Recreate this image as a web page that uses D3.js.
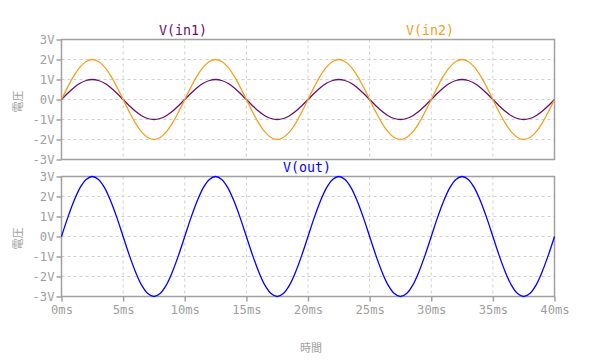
<!DOCTYPE html>
<html><head><meta charset="utf-8">
<script src="https://cdn.jsdelivr.net/npm/d3@7"></script>
<style>body{margin:0;background:#fff}svg{display:block}</style>
</head><body>
<svg id="c" width="600" height="361"></svg>
<script>
// time in ms, 0.5ms steps
const timeMs = [0,0.5,1,1.5,2,2.5,3,3.5,4,4.5,5,5.5,6,6.5,7,7.5,8,8.5,9,9.5,10,10.5,11,11.5,12,12.5,13,13.5,14,14.5,15,15.5,16,16.5,17,17.5,18,18.5,19,19.5,20,20.5,21,21.5,22,22.5,23,23.5,24,24.5,25,25.5,26,26.5,27,27.5,28,28.5,29,29.5,30,30.5,31,31.5,32,32.5,33,33.5,34,34.5,35,35.5,36,36.5,37,37.5,38,38.5,39,39.5,40];
const vIn1 = [0,0.31,0.59,0.81,0.95,1,0.95,0.81,0.59,0.31,0,-0.31,-0.59,-0.81,-0.95,-1,-0.95,-0.81,-0.59,-0.31,
  0,0.31,0.59,0.81,0.95,1,0.95,0.81,0.59,0.31,0,-0.31,-0.59,-0.81,-0.95,-1,-0.95,-0.81,-0.59,-0.31,
  0,0.31,0.59,0.81,0.95,1,0.95,0.81,0.59,0.31,0,-0.31,-0.59,-0.81,-0.95,-1,-0.95,-0.81,-0.59,-0.31,
  0,0.31,0.59,0.81,0.95,1,0.95,0.81,0.59,0.31,0,-0.31,-0.59,-0.81,-0.95,-1,-0.95,-0.81,-0.59,-0.31,0];
const vIn2 = [0,0.62,1.18,1.62,1.9,2,1.9,1.62,1.18,0.62,0,-0.62,-1.18,-1.62,-1.9,-2,-1.9,-1.62,-1.18,-0.62,
  0,0.62,1.18,1.62,1.9,2,1.9,1.62,1.18,0.62,0,-0.62,-1.18,-1.62,-1.9,-2,-1.9,-1.62,-1.18,-0.62,
  0,0.62,1.18,1.62,1.9,2,1.9,1.62,1.18,0.62,0,-0.62,-1.18,-1.62,-1.9,-2,-1.9,-1.62,-1.18,-0.62,
  0,0.62,1.18,1.62,1.9,2,1.9,1.62,1.18,0.62,0,-0.62,-1.18,-1.62,-1.9,-2,-1.9,-1.62,-1.18,-0.62,0];
const vOut = [0,0.93,1.76,2.43,2.85,3,2.85,2.43,1.76,0.93,0,-0.93,-1.76,-2.43,-2.85,-3,-2.85,-2.43,-1.76,-0.93,
  0,0.93,1.76,2.43,2.85,3,2.85,2.43,1.76,0.93,0,-0.93,-1.76,-2.43,-2.85,-3,-2.85,-2.43,-1.76,-0.93,
  0,0.93,1.76,2.43,2.85,3,2.85,2.43,1.76,0.93,0,-0.93,-1.76,-2.43,-2.85,-3,-2.85,-2.43,-1.76,-0.93,
  0,0.93,1.76,2.43,2.85,3,2.85,2.43,1.76,0.93,0,-0.93,-1.76,-2.43,-2.85,-3,-2.85,-2.43,-1.76,-0.93,0];
const xTicks = [0,5,10,15,20,25,30,35,40];
const yTicks = [-3,-2,-1,0,1,2,3];
const seriesNames = ["V(in1)","V(in2)","V(out)"];
const seriesColors = ["#6b0d6e","#f5a11f","#0000ff"];
const yLabel = "電圧", xLabel = "時間";

const svg = d3.select("#c");
const mono = "'DejaVu Sans Mono', monospace";
const gray = "#a0a0a0";
const x = d3.scaleLinear().domain([0,40]).range([61.5,554.5]);
const panels = [
  {top:39.5, bottom:159.5, series:[0,1]},
  {top:176.5, bottom:296.5, series:[2]}
];
const data = [vIn1, vIn2, vOut];

panels.forEach((p, pi) => {
  const y = d3.scaleLinear().domain([-3,3]).range([p.bottom,p.top]);
  const g = svg.append("g");
  g.selectAll(".hg").data(yTicks.slice(1,-1)).join("line")
    .attr("x1",x(0)).attr("x2",x(40)).attr("y1",d=>y(d)).attr("y2",d=>y(d))
    .attr("stroke","#d0d0d0").attr("stroke-dasharray","3,3");
  g.selectAll(".vg").data(xTicks.slice(1,-1)).join("line")
    .attr("y1",p.top).attr("y2",p.bottom).attr("x1",d=>x(d)).attr("x2",d=>x(d))
    .attr("stroke","#d0d0d0").attr("stroke-dasharray","3,3");
  g.append("rect").attr("x",x(0)).attr("y",p.top).attr("width",x(40)-x(0)).attr("height",p.bottom-p.top)
    .attr("fill","none").attr("stroke","#a0a0a0").attr("stroke-width",1.5);
  const ya = g.append("g").attr("transform",`translate(${x(0)},0)`)
    .call(d3.axisLeft(y).tickValues(yTicks).tickFormat(d=>d+"V").tickSize(5).tickPadding(2));
  ya.select(".domain").remove();
  ya.selectAll("line").attr("stroke",gray).attr("stroke-width",1.5);
  ya.selectAll("text").attr("fill",gray).style("font-family",mono).style("font-size","12.2px");
  if (pi===1) {
    const xa = g.append("g").attr("transform",`translate(0,${p.bottom})`)
      .call(d3.axisBottom(x).tickValues(xTicks).tickFormat(d=>d+"ms").tickSize(5).tickPadding(4));
    xa.select(".domain").remove();
    xa.selectAll("line").attr("stroke",gray).attr("stroke-width",1.5);
    xa.selectAll("text").attr("fill",gray).style("font-family",mono).style("font-size","12.2px");
  }
  g.append("text").attr("transform",`translate(22,${(p.top+p.bottom)/2+2}) rotate(-90)`)
    .attr("text-anchor","middle").attr("fill",gray)
    .style("font-family","'Noto Sans CJK JP'").style("font-size","11px").text(yLabel);
  const line = d3.line().x((d,i)=>x(timeMs[i])).y(d=>y(d)).curve(d3.curveCatmullRom);
  p.series.forEach(si => {
    g.append("path").attr("d",line(data[si])).attr("fill","none")
      .attr("stroke",seriesColors[si]).attr("stroke-width",1.3);
  });
});

const titlePos = [[183,35],[430,35],[307,172]];
seriesNames.forEach((n,i)=>{
  svg.append("text").attr("x",titlePos[i][0]).attr("y",titlePos[i][1]).attr("text-anchor","middle")
    .attr("fill",seriesColors[i]).style("font-family",mono).style("font-size","13.3px").text(n);
});
svg.append("text").attr("x",311).attr("y",352).attr("text-anchor","middle").attr("fill",gray)
  .style("font-family","'Noto Sans CJK JP'").style("font-size","11px").text(xLabel);
</script>
</body></html>
